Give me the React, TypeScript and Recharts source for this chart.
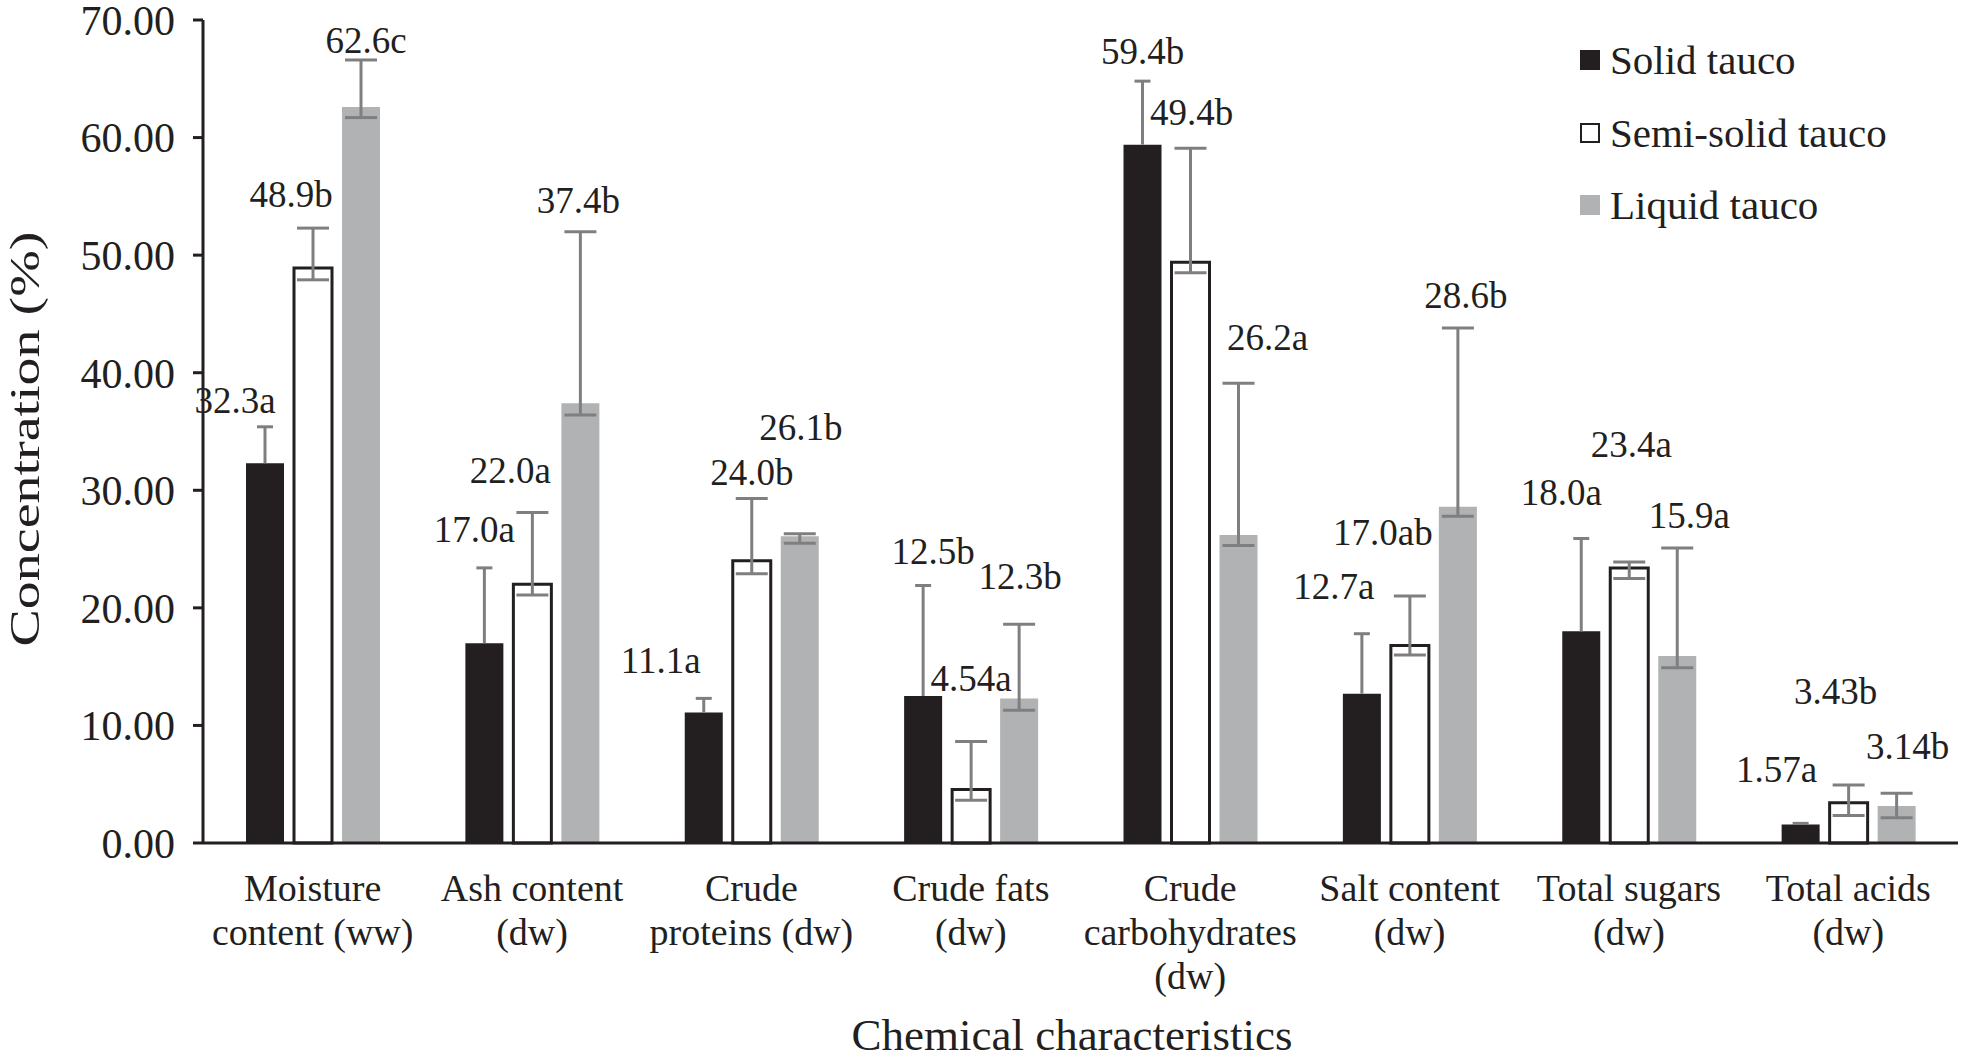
import { BarChart, Bar, XAxis, YAxis, ErrorBar, LabelList, Legend, Rectangle } from "recharts";

const CATEGORIES = [
    "Moisture\ncontent (ww)",
    "Ash content\n(dw)",
    "Crude\nproteins (dw)",
    "Crude fats\n(dw)",
    "Crude\ncarbohydrates\n(dw)",
    "Salt content\n(dw)",
    "Total sugars\n(dw)",
    "Total acids\n(dw)",
];

const SERIES_NAMES = ["Solid tauco", "Semi-solid tauco", "Liquid tauco"];

const SOLID = [32.3, 17.0, 11.1, 12.5, 59.4, 12.7, 18.0, 1.57];
const SEMI = [48.9, 22.0, 24.0, 4.54, 49.4, 16.8, 23.4, 3.43];
const LIQUID = [62.6, 37.4, 26.1, 12.3, 26.2, 28.6, 15.9, 3.14];

// solid tauco only shows the plus side of its error bars
const SOLID_ERR = [3.1, 6.4, 1.2, 9.4, 5.4, 5.1, 7.9, 0.1];
// [minus, plus]
const SEMI_ERR = [[1.0, 3.4], [0.9, 6.1], [1.1, 5.3], [0.9, 4.1], [0.9, 9.7], [0.8, 4.2], [0.9, 0.5], [1.1, 1.5]];
const LIQUID_ERR = [[0.9, 4.0], [1.0, 14.6], [0.6, 0.2], [1.0, 6.3], [0.9, 12.9], [0.8, 15.2], [1.0, 9.2], [1.0, 1.1]];

const SOLID_LABELS = ["32.3a", "17.0a", "11.1a", "12.5b", "59.4b", "12.7a", "18.0a", "1.57a"];
const SEMI_LABELS = ["48.9b", "22.0a", "24.0b", "4.54a", "49.4b", "17.0ab", "23.4a", "3.43b"];
const LIQUID_LABELS = ["62.6c", "37.4b", "26.1b", "12.3b", "26.2a", "28.6b", "15.9a", "3.14b"];

const Y_TICKS = [0, 10, 20, 30, 40, 50, 60, 70];

// label placement: [dx from bar centre, dy of label centre from error-bar top], px
const SOLID_LABEL_POS = [[-30, -26], [-10, -38], [-43, -37], [10, -34], [0, -29], [-28, -47], [-20, -45], [-24, -53]];
const SEMI_LABEL_POS = [[-22, -33], [-22, -42], [0, -26], [0, -62], [1, -35], [-27, -63], [2, -117], [-13, -93]];
const LIQUID_LABEL_POS = [[5, -19], [-2, -31], [1, -106], [1, -47], [29, -45], [8, -32], [12, -32], [11, -46]];

const INK = "#231f20";
const GREY = "#b1b2b4";
const ERR = "#7f7f7f";
const FONT = "'Liberation Serif', 'Times New Roman', serif";

const data = CATEGORIES.map((name, i) => ({
    name,
    solid: SOLID[i],
    semi: SEMI[i],
    liquid: LIQUID[i],
    solidErr: SOLID_ERR[i],
    semiErr: SEMI_ERR[i],
    liquidErr: LIQUID_ERR[i],
}));

function SolidShape(props: any) {
    const { x, y, width, height, payload } = props;
    const unit = height / payload.solid;
    const top = y - payload.solidErr * unit;
    const cx = x + width / 2;
    return (
        <g>
            <Rectangle x={x} y={y} width={width} height={height} fill={INK} />
            <line x1={cx} x2={cx} y1={y} y2={top} stroke={ERR} strokeWidth={3} />
            <line x1={cx - 8} x2={cx + 8} y1={top} y2={top} stroke={ERR} strokeWidth={3} />
        </g>
    );
}

function makeLabel(texts: string[], pos: number[][], plus: (i: number) => number) {
    return (props: any) => {
        const vb = props.viewBox ?? props;
        const { x, y, width, height } = vb;
        const index = props.index;
        const value = Number(props.value);
        if (index == null || !value) return null;
        const unit = height / value;
        const capTop = y - plus(index) * unit;
        const [dx, dy] = pos[index];
        return (
            <text
                x={x + width / 2 + dx}
                y={capTop + dy + 12}
                textAnchor="middle"
                fontSize={37}
                fontFamily={FONT}
                fill={INK}
            >
                {texts[index]}
            </text>
        );
    };
}

function CategoryTick(props: any) {
    const { x, y, payload } = props;
    const lines = String(payload.value).split("\n");
    return (
        <text x={x} y={y + 58} textAnchor="middle" fontSize={38} fontFamily={FONT} fill={INK}>
            {lines.map((l, i) => (
                <tspan key={i} x={x} dy={i === 0 ? 0 : 44}>{l}</tspan>
            ))}
        </text>
    );
}

function LegendBox(props: any) {
    const items = [...(props.payload || [])].sort(
        (a: any, b: any) => SERIES_NAMES.indexOf(a.value) - SERIES_NAMES.indexOf(b.value)
    );
    return (
        <div style={{ position: "relative", width: 380, height: 230 }}>
            {items.map((it: any, i: number) => {
                const outlined = it.color === "#ffffff";
                return (
                    <div
                        key={it.value}
                        style={{
                            position: "absolute",
                            left: 0,
                            top: i * 72.5,
                            height: 44,
                            display: "flex",
                            alignItems: "center",
                            fontFamily: FONT,
                            fontSize: 41,
                            color: INK,
                            whiteSpace: "nowrap",
                        }}
                    >
                        <span
                            style={{
                                display: "inline-block",
                                width: outlined ? 16 : 20,
                                height: outlined ? 16 : 20,
                                background: it.color,
                                border: outlined ? `2px solid ${INK}` : "none",
                                marginRight: 10,
                            }}
                        />
                        {it.value}
                    </div>
                );
            })}
        </div>
    );
}

export default function App() {
    return (
        <div style={{ position: "absolute", left: 0, top: 0, width: 1962, height: 1063, background: "#fff" }}>
            <BarChart
                width={1962}
                height={1063}
                data={data}
                margin={{ top: 20, right: 4, left: 0, bottom: 0 }}
                barSize={38}
                barGap={10}
            >
                <XAxis
                    dataKey="name"
                    interval={0}
                    height={220}
                    tickLine={false}
                    tickSize={0}
                    tickMargin={0}
                    axisLine={{ stroke: INK, strokeWidth: 3 }}
                    tick={<CategoryTick />}
                    label={{
                        content: () => (
                            <text x={1072} y={1050} textAnchor="middle" fontSize={45} fontFamily={FONT} fill={INK}>
                                Chemical characteristics
                            </text>
                        ),
                    }}
                />
                <XAxis xAxisId="top" dataKey="name" orientation="top" height={0} tick={false} tickLine={false}
                    axisLine={{ stroke: INK, strokeWidth: 3 }} />
                <YAxis
                    width={203}
                    domain={[0, 70]}
                    ticks={Y_TICKS}
                    interval={0}
                    tickFormatter={(v: number) => v.toFixed(2)}
                    tickSize={10}
                    tickMargin={18}
                    tickLine={{ stroke: INK, strokeWidth: 3 }}
                    axisLine={{ stroke: INK, strokeWidth: 3 }}
                    tick={{ fill: INK, fontSize: 42, fontFamily: FONT }}
                    label={{
                        content: () => (
                            <text x={39} y={439} textAnchor="middle" fontSize={43} fontFamily={FONT} fill={INK}
                                textLength={415} lengthAdjust="spacingAndGlyphs"
                                transform="rotate(-90, 39, 439)">
                                Concentration (%)
                            </text>
                        ),
                    }}
                />
                <YAxis yAxisId="right" orientation="right" width={0} domain={[0, 70]} tick={false} tickLine={false}
                    axisLine={{ stroke: INK, strokeWidth: 3 }} />
                <Legend
                    layout="vertical"
                    align="center"
                    verticalAlign="middle"
                    content={<LegendBox />}
                    wrapperStyle={{ left: 1580, top: 38, width: 380 }}
                />
                <Bar dataKey="solid" name="Solid tauco" fill={INK} shape={<SolidShape />} isAnimationActive={false}>
                    <LabelList dataKey="solid" content={makeLabel(SOLID_LABELS, SOLID_LABEL_POS, (i) => SOLID_ERR[i])} />
                </Bar>
                <Bar dataKey="semi" name="Semi-solid tauco" fill="#ffffff" stroke={INK} strokeWidth={3} isAnimationActive={false}>
                    <ErrorBar dataKey="semiErr" width={16} stroke={ERR} strokeWidth={3} />
                    <LabelList dataKey="semi" content={makeLabel(SEMI_LABELS, SEMI_LABEL_POS, (i) => SEMI_ERR[i][1])} />
                </Bar>
                <Bar dataKey="liquid" name="Liquid tauco" fill={GREY} isAnimationActive={false}>
                    <ErrorBar dataKey="liquidErr" width={16} stroke={ERR} strokeWidth={3} />
                    <LabelList dataKey="liquid" content={makeLabel(LIQUID_LABELS, LIQUID_LABEL_POS, (i) => LIQUID_ERR[i][1])} />
                </Bar>
            </BarChart>
        </div>
    );
}
